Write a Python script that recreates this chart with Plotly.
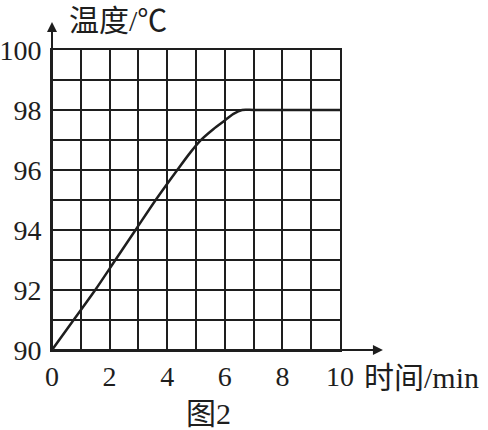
import plotly.graph_objects as go

time_min = [0, 0.75, 1.5, 2.2, 2.9, 3.6, 4.35, 4.8, 5.15, 5.6, 6.0, 6.3, 6.6, 7, 8, 9, 10]
temp_c = [90, 91, 92, 93, 94, 95, 96, 96.58, 96.98, 97.36, 97.65, 97.87, 98, 98, 98, 98, 98]
x_ticks = [0, 2, 4, 6, 8, 10]
y_ticks = [90, 92, 94, 96, 98, 100]

SERIF = "Liberation Serif"
MIXED = "Liberation Serif, Noto Sans CJK SC"
INK = "#1e1e1e"

fig = go.Figure()
fig.add_trace(go.Scatter(x=time_min, y=temp_c, mode="lines",
                         line=dict(color=INK, width=2.5, shape="spline", smoothing=0.8),
                         hoverinfo="skip"))

common = dict(showgrid=True, gridcolor=INK, gridwidth=2, automargin=False,
              showline=True, linecolor=INK, linewidth=2, mirror=True,
              zeroline=False, ticks="", fixedrange=True,
              tickfont=dict(family=SERIF, size=28, color=INK))
fig.update_xaxes(range=[0, 10], tickvals=x_ticks, ticktext=[str(v) for v in x_ticks],
                 minor=dict(dtick=1, tick0=0, showgrid=True, gridcolor=INK, gridwidth=2), **common)
fig.update_yaxes(range=[90, 100], tickvals=y_ticks, ticktext=[str(v) for v in y_ticks],
                 ticklabelstandoff=3,
                 minor=dict(dtick=1, tick0=90, showgrid=True, gridcolor=INK, gridwidth=2), **common)

# axis arrows (tail offsets in pixels)
fig.add_annotation(x=1.149, y=0, xref="paper", yref="paper", ax=-331, ay=0,
                   showarrow=True, arrowhead=2, arrowsize=1, arrowwidth=2,
                   arrowcolor=INK, text="")
fig.add_annotation(x=0, y=1.093, xref="paper", yref="paper", ax=0, ay=328,
                   showarrow=True, arrowhead=2, arrowsize=1, arrowwidth=2,
                   arrowcolor=INK, text="")

fig.add_annotation(x=0.052, y=1.097, xref="paper", yref="paper", xanchor="left",
                   yanchor="middle", text="温度/℃", showarrow=False,
                   font=dict(family=MIXED, size=30, color=INK))
fig.add_annotation(x=1.076, y=-0.09, xref="paper", yref="paper", xanchor="left",
                   yanchor="middle", text="时间/min", showarrow=False,
                   font=dict(family=MIXED, size=30, color=INK))
fig.add_annotation(x=0.543, y=-0.21, xref="paper", yref="paper", xanchor="center",
                   yanchor="middle", text="图2", showarrow=False,
                   font=dict(family=MIXED, size=30, color=INK))

fig.update_layout(width=488, height=430, margin=dict(l=52, r=148, t=50, b=80, autoexpand=False),
                  paper_bgcolor="white", plot_bgcolor="white", showlegend=False,
                  font=dict(family=SERIF))
fig.write_html("out.html", config={"displayModeBar": False},
               post_script="document.body.style.margin='0';document.body.style.overflow='hidden';")
